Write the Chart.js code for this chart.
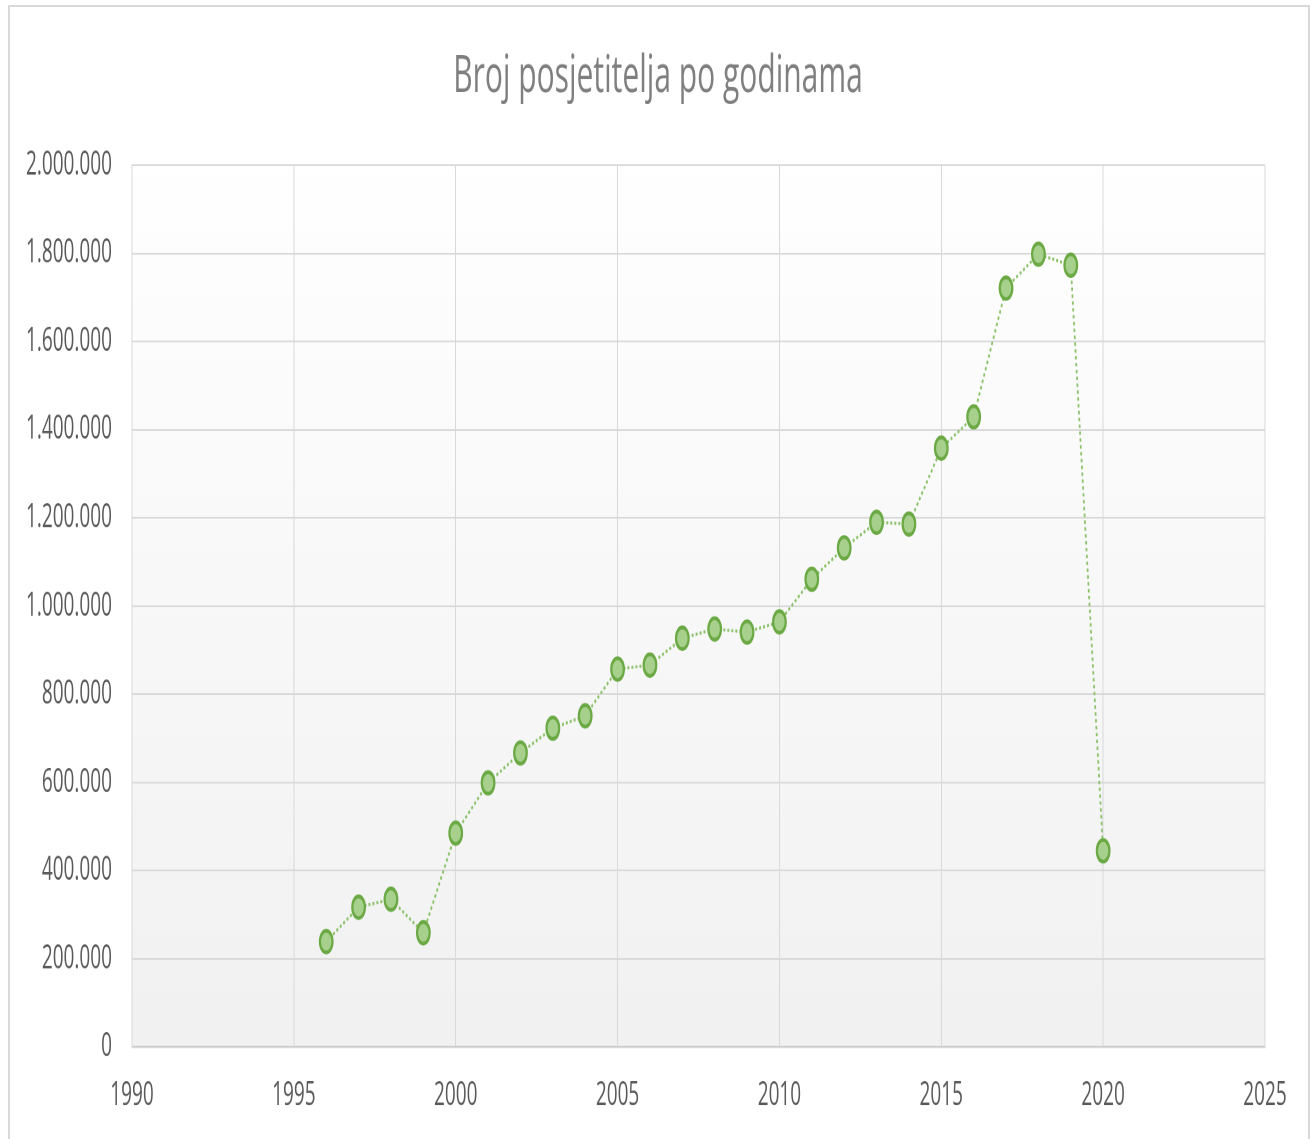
<!DOCTYPE html>
<html>
<head>
<meta charset="utf-8">
<script src="https://cdn.jsdelivr.net/npm/chart.js@4.4.1/dist/chart.umd.min.js"></script>
<style>
    html, body { margin: 0; padding: 0; background: #fff; overflow: hidden; }
    body { width: 1316px; height: 1139px; position: relative; }
    #frame {
        position: absolute; left: 8px; top: 5px; width: 1302px; height: 1200px;
        border: 2px solid #d9d9d9; border-bottom: none; box-sizing: border-box;
    }
    /* the reference is a vertically stretched picture, so the chart is drawn squat and stretched */
    #wrap {
        position: absolute; left: 0; top: 0; width: 1316px; height: 662px;
        transform: scaleY(1.72); transform-origin: 0 0;
    }
</style>
</head>
<body>
<div id="frame"></div>
<div id="wrap"><canvas id="chart-visitors"></canvas></div>
<script>
const chartTitle = 'Broj posjetitelja po godinama';
const years = [1996, 1997, 1998, 1999, 2000, 2001, 2002, 2003, 2004, 2005, 2006, 2007, 2008,
               2009, 2010, 2011, 2012, 2013, 2014, 2015, 2016, 2017, 2018, 2019, 2020];
const visitors = [239000, 317000, 335000, 259000, 485000, 599000, 667000, 723000, 751000,
                  857000, 866000, 927000, 948000, 941000, 964000, 1061000, 1132000, 1190000,
                  1186000, 1358000, 1429000, 1721000, 1798000, 1773000, 445000];
const xMin = 1990, xMax = 2025, xStep = 5;
const yMin = 0, yMax = 2000000, yStep = 200000;

const fmtThousands = v => String(v).replace(/\B(?=(\d{3})+(?!\d))/g, '.');

// plot area fill: white at top fading to light grey
const plotBackground = {
    id: 'plotBackground',
    beforeDraw(chart) {
        const { ctx, chartArea: a } = chart;
        const g = ctx.createLinearGradient(0, a.top, 0, a.bottom);
        g.addColorStop(0, '#ffffff');
        g.addColorStop(1, '#f1f1f1');
        ctx.save();
        ctx.fillStyle = g;
        ctx.fillRect(a.left, a.top, a.right - a.left, a.bottom - a.top);
        ctx.restore();
    }
};

Chart.defaults.font.family = '"Open Sans", "Liberation Sans", sans-serif';

new Chart(document.getElementById('chart-visitors'), {
    type: 'line',
    data: {
        datasets: [{
            label: chartTitle,
            data: years.map((y, i) => ({ x: y, y: visitors[i] })),
            borderColor: '#8cc36b',
            borderWidth: 1.8,
            borderDash: [2, 2],
            pointRadius: 6.3,
            pointBorderWidth: 2.2,
            pointBackgroundColor: '#a8d08d',
            pointBorderColor: '#6aa943',
            tension: 0,
            fill: false
        }]
    },
    options: {
        responsive: true,
        maintainAspectRatio: false,
        animation: false,
        devicePixelRatio: 2,
        layout: { padding: 0 },
        plugins: {
            legend: { display: false },
            tooltip: { enabled: false },
            title: {
                display: true,
                text: chartTitle,
                color: '#7f7f7f',
                font: { size: 30, weight: 'normal' },
                padding: { top: 27, bottom: 33 }
            }
        },
        scales: {
            x: {
                type: 'linear',
                min: xMin, max: xMax,
                ticks: { stepSize: xStep, color: '#595959', font: { size: 19 }, padding: 17,
                         callback: v => String(v) },
                grid: { color: '#d9d9d9', lineWidth: 1, drawTicks: false },
                border: { color: '#cccccc', width: 1.2 },
                afterFit: s => { s.height = 53.3; }
            },
            y: {
                min: yMin, max: yMax,
                ticks: { stepSize: yStep, color: '#595959', font: { size: 19 }, padding: 20,
                         callback: v => fmtThousands(v) },
                grid: { color: '#d9d9d9', lineWidth: 1, drawTicks: false },
                border: { color: '#d9d9d9', width: 1 },
                afterFit: s => { s.width = 132; }
            },
            // empty right margin so the title stays centred on the full width
            yRight: {
                position: 'right',
                min: yMin, max: yMax,
                ticks: { display: false },
                grid: { display: false, drawTicks: false },
                border: { display: false },
                afterFit: s => { s.width = 51; }
            }
        }
    },
    plugins: [plotBackground]
});
</script>
</body>
</html>
